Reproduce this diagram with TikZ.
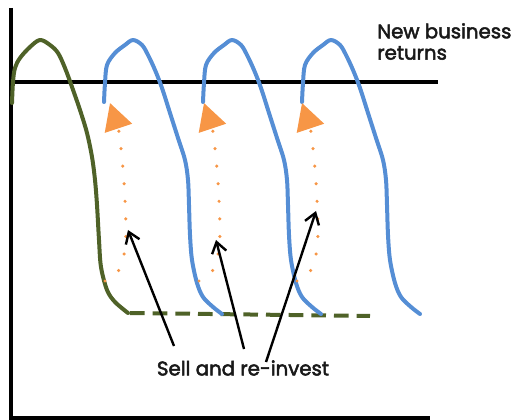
\documentclass[tikz,border=0pt]{standalone}
\usepackage{fontspec}
\setmainfont{Poppins}
\usetikzlibrary{arrows.meta}

\definecolor{olive}{RGB}{79,98,40}
\definecolor{cycleblue}{RGB}{85,142,213}
\definecolor{seed}{RGB}{247,150,70}
\definecolor{ink}{RGB}{25,25,25}

\tikzset{
  axis/.style={line width=3pt, black},
  curve/.style={line width=3pt, line cap=round, line join=round},
  reinvest/.style={seed, line width=2.6pt, line cap=round,
    dash pattern=on 0pt off 13.2pt, -{Triangle[length=20pt,width=21pt]}},
  pointer/.style={line width=1.8pt, -{Straight Barb[length=8pt,width=11pt,line width=1.8pt]}},
  caption/.style={font=\fontsize{14.8}{16}\selectfont\addfontfeature{FakeBold=2.5}, text=ink, inner sep=0pt}
}

\begin{document}
\begin{tikzpicture}[x=0.75pt,y=0.75pt,yscale=-1,xscale=1]
\path (0,0) rectangle (514,420); %fix the page size

%Axes
\draw [axis] (11,8) -- (11,418) -- (430,418) ;
\draw [axis, line width=2.6pt] (11,82) -- (438,82) ;

%First business (green) and its run-off
\draw [curve, olive] plot [smooth, tension=0.55] coordinates {(12,103) (13,82) (15,68) (20,58) (30,47) (40,40) (50,45) (58,53) (65,68) (72,87) (80,110) (87,133) (92,157) (95,180) (97,205) (99,240) (101,267) (107,290) (115,302) (128,313)};
\draw [olive, line width=3pt, dash pattern=on 11pt off 6pt] (130,313) -- (370,316) ;

%Following businesses (blue)
\foreach \dx in {0,99,198} {
  \draw [curve, cycleblue, xshift=\dx*0.75pt] plot [smooth, tension=0.55] coordinates {(104,102) (105,83) (107,65) (115,53) (125,45) (133,40) (142,45) (148,55) (155,70) (162,88) (170,113) (178,138) (185,160) (188,180) (189,205) (190,235) (192,260) (197,283) (203,297) (213,307) (222,314)};
}

%Proceeds carried into the next business
\foreach \dx in {0,94,192} {
  \draw [reinvest, xshift=\dx*0.75pt] (105,281) .. controls (128,275) and (127,240) .. (125,200) .. controls (123,160) and (119,130) .. (110,103) ;
}

% Text Node
\node [caption, align=left, anchor=north west] (newret) at (377,23) {New business\\returns};
% Text Node
\node [caption] (sell) at (243,368) {Sell and re-invest};

\coordinate (fromA) at (174,346);
\coordinate (fromB) at (244,349);
\coordinate (fromC) at (266,362);
\coordinate (tipA) at (128,230);
\coordinate (tipB) at (216,240);
\coordinate (tipC) at (316,211);

\draw [pointer] (fromA) -- (tipA) ;
\draw [pointer] (fromB) -- (tipB) ;
\draw [pointer] (fromC) -- (tipC) ;

\end{tikzpicture}
\end{document}
